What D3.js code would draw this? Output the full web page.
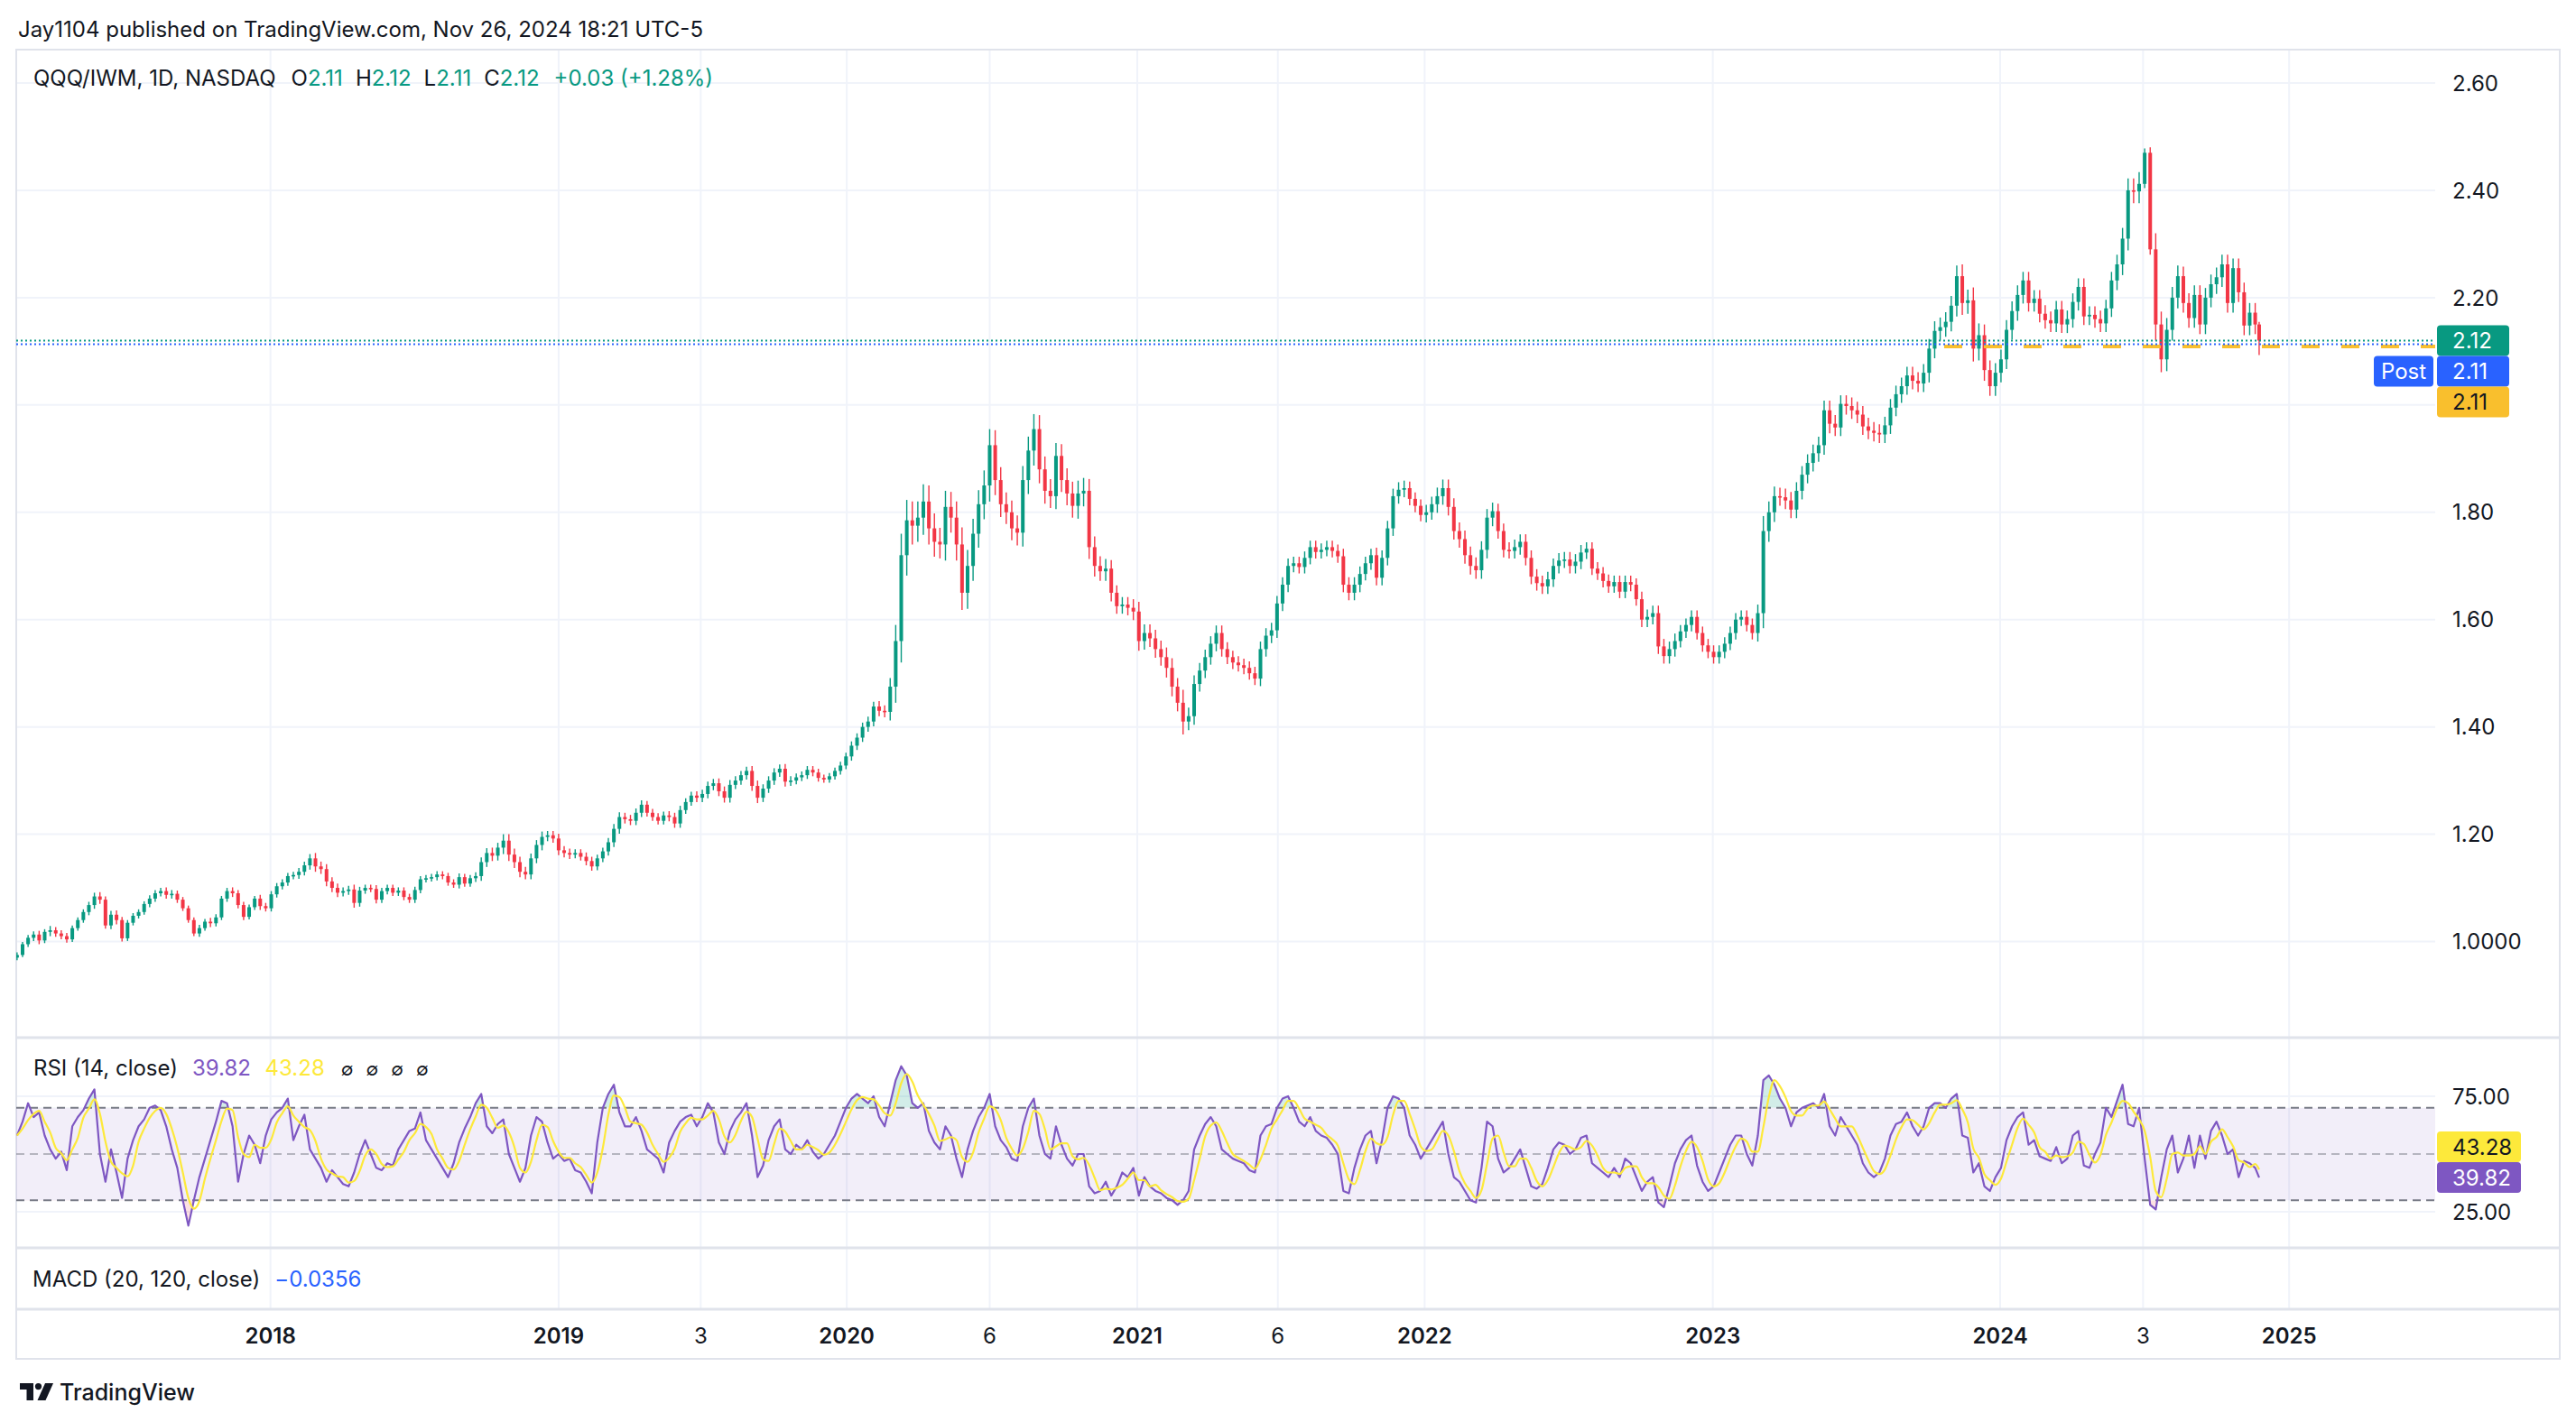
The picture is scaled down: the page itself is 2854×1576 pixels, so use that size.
<!DOCTYPE html>
<html lang="en">
<head>
    <meta charset="UTF-8">
    <title>QQQ/IWM, 1D</title>
    <script src="https://d3js.org/d3.v7.min.js"></script>
    <style>
        body { margin: 0; background: #ffffff; overflow: hidden; }
        svg { display: block; }
    </style>
</head>
<body>
<script>
    // weekly closes of QQQ/IWM (week ending Friday)
    const closes2017 = [0.975, 0.995, 1.007, 1.013, 1.002, 1.018, 1.021, 1.015, 1.010, 1.004,
        1.025, 1.040, 1.055, 1.068, 1.084, 1.078, 1.030, 1.050, 1.040, 1.006,
        1.035, 1.048, 1.055, 1.070, 1.080, 1.090, 1.094, 1.087, 1.089, 1.078,
        1.062, 1.040, 1.015, 1.025, 1.037, 1.034, 1.045, 1.080, 1.094, 1.090,
        1.068, 1.046, 1.064, 1.080, 1.066, 1.062];
    const closes2018 = [1.088, 1.103, 1.110, 1.122, 1.124, 1.130, 1.142, 1.155, 1.140, 1.135,
        1.112, 1.100, 1.091, 1.094, 1.097, 1.072, 1.095, 1.100, 1.098, 1.078,
        1.094, 1.100, 1.091, 1.095, 1.083, 1.078, 1.096, 1.116, 1.118, 1.120,
        1.125, 1.122, 1.110, 1.106, 1.120, 1.108, 1.118, 1.122, 1.148, 1.165,
        1.160, 1.175, 1.188, 1.162, 1.148, 1.130, 1.125, 1.155, 1.180, 1.195,
        1.198, 1.192];
    const closes2019 = [1.170, 1.165, 1.162, 1.165, 1.158, 1.150, 1.140, 1.155, 1.168, 1.185,
        1.210, 1.232, 1.228, 1.225, 1.240, 1.255, 1.240, 1.232, 1.225, 1.235,
        1.232, 1.220, 1.245, 1.260, 1.272, 1.268, 1.275, 1.290, 1.295, 1.280,
        1.268, 1.292, 1.300, 1.310, 1.318, 1.290, 1.268, 1.285, 1.300, 1.315,
        1.322, 1.298, 1.300, 1.306, 1.310, 1.320, 1.315, 1.305, 1.302, 1.308,
        1.318, 1.328];
    const closes2020 = [1.345, 1.365, 1.380, 1.400, 1.410, 1.438, 1.430, 1.428, 1.475, 1.560,
        1.720, 1.785, 1.775, 1.790, 1.820, 1.770, 1.745, 1.740, 1.810, 1.790,
        1.740, 1.650, 1.700, 1.760, 1.815, 1.850, 1.925, 1.860, 1.815, 1.800,
        1.770, 1.762, 1.860, 1.915, 1.955, 1.880, 1.840, 1.830, 1.905, 1.860,
        1.835, 1.812, 1.835, 1.840, 1.735, 1.700, 1.690, 1.695, 1.650, 1.625,
        1.628, 1.622];
    const closes2021 = [1.615, 1.560, 1.575, 1.565, 1.545, 1.530, 1.510, 1.475, 1.445, 1.410,
        1.420, 1.480, 1.505, 1.530, 1.555, 1.575, 1.545, 1.530, 1.520, 1.515,
        1.510, 1.500, 1.490, 1.545, 1.570, 1.580, 1.630, 1.665, 1.700, 1.705,
        1.698, 1.715, 1.735, 1.726, 1.730, 1.735, 1.728, 1.718, 1.665, 1.650,
        1.665, 1.685, 1.705, 1.720, 1.678, 1.715, 1.770, 1.830, 1.842, 1.845,
        1.825, 1.812, 1.795];
    const closes2022 = [1.800, 1.815, 1.830, 1.845, 1.810, 1.765, 1.750, 1.720, 1.700, 1.692,
        1.730, 1.790, 1.802, 1.765, 1.730, 1.728, 1.735, 1.745, 1.715, 1.680,
        1.668, 1.662, 1.675, 1.700, 1.710, 1.712, 1.700, 1.708, 1.725, 1.732,
        1.695, 1.686, 1.672, 1.662, 1.670, 1.652, 1.670, 1.665, 1.638, 1.600,
        1.605, 1.612, 1.550, 1.532, 1.545, 1.560, 1.578, 1.590, 1.605, 1.575,
        1.552, 1.540];
    const closes2023 = [1.530, 1.540, 1.555, 1.575, 1.600, 1.605, 1.590, 1.575, 1.612, 1.765,
        1.800, 1.830, 1.828, 1.822, 1.805, 1.840, 1.870, 1.892, 1.910, 1.925,
        1.990, 1.965, 1.958, 2.002, 1.998, 1.990, 1.982, 1.960, 1.952, 1.948,
        1.945, 1.962, 1.995, 2.020, 2.035, 2.055, 2.045, 2.040, 2.060, 2.105,
        2.138, 2.145, 2.155, 2.185, 2.240, 2.190, 2.195, 2.105, 2.130, 2.065,
        2.035, 2.060];
    const closes2024 = [2.085, 2.140, 2.175, 2.205, 2.232, 2.190, 2.198, 2.170, 2.158, 2.152,
        2.178, 2.150, 2.160, 2.192, 2.220, 2.165, 2.168, 2.160, 2.152, 2.180,
        2.232, 2.262, 2.310, 2.400, 2.398, 2.412, 2.470, 2.290, 2.150, 2.085,
        2.140, 2.200, 2.240, 2.190, 2.162, 2.205, 2.150, 2.200, 2.225, 2.238,
        2.262, 2.190, 2.255, 2.210, 2.148, 2.172, 2.150];
    const firstOpen = 0.970;
    const lastBar = { date: "2024-11-26", open: 2.150, high: 2.155, low: 2.093, close: 2.12 };

    // how far the week's high / low reach past its body, in thousandths
    const wick2017 = [5, 4, 5, 6, 7, 5, 8, 6, 6, 6, 5, 5, 5, 6, 7, 8, 6, 7, 8, 6,
        5, 5, 5, 5, 6, 6, 6, 7, 7, 6, 5, 5, 5, 6, 5, 7, 6, 5, 6, 7, 6, 6, 5, 5, 7, 6];
    const wick2018 = [6, 6, 6, 6, 6, 7, 7, 8, 10, 9, 9, 8, 8, 7, 7, 9, 7, 6, 6, 7,
        6, 6, 6, 6, 6, 6, 6, 6, 6, 6, 6, 6, 6, 6, 7, 6, 6, 7, 9, 9,
        10, 9, 12, 12, 11, 10, 9, 9, 9, 10, 8, 8];
    const wick2019 = [9, 8, 8, 7, 7, 8, 8, 7, 7, 8, 9, 9, 8, 8, 8, 8, 7, 7, 7, 7,
        8, 8, 8, 7, 7, 8, 8, 8, 8, 9, 9, 9, 8, 8, 8, 9, 10, 8, 8, 8,
        8, 9, 8, 7, 7, 7, 7, 7, 6, 6, 6, 7];
    const wick2020 = [7, 8, 8, 8, 9, 9, 10, 10, 16, 30, 40, 38, 35, 30, 32, 30, 28, 26, 30, 28,
        30, 32, 30, 28, 26, 28, 30, 28, 24, 22, 22, 24, 26, 26, 28, 26, 24, 22, 24, 22,
        22, 22, 24, 24, 22, 20, 18, 18, 16, 14, 14, 14];
    const wick2021 = [16, 18, 16, 16, 16, 16, 18, 18, 16, 24, 16, 16, 14, 14, 14, 14, 14, 13, 12, 12,
        12, 12, 12, 14, 14, 14, 14, 14, 14, 12, 12, 12, 12, 12, 12, 12, 12, 12, 14, 14,
        14, 14, 12, 12, 14, 14, 14, 14, 14, 14, 12, 12, 12];
    const wick2022 = [14, 14, 16, 16, 16, 16, 16, 16, 16, 16, 16, 16, 16, 14, 14, 14, 14, 14, 14, 14,
        14, 14, 14, 14, 14, 14, 14, 14, 14, 12, 12, 12, 12, 12, 12, 12, 12, 12, 12, 14,
        14, 14, 14, 14, 14, 14, 12, 12, 12, 12, 12, 12];
    const wick2023 = [12, 12, 12, 12, 12, 12, 12, 12, 16, 28, 20, 18, 16, 16, 16, 16, 16, 16, 16, 16,
        18, 18, 16, 16, 16, 16, 16, 16, 16, 16, 16, 16, 16, 16, 16, 16, 16, 16, 16, 18,
        18, 18, 18, 18, 20, 22, 20, 24, 22, 20, 18, 18];
    const wick2024 = [18, 18, 18, 18, 16, 16, 16, 16, 16, 16, 16, 16, 16, 16, 16, 16, 16, 16, 16, 16,
        16, 18, 20, 22, 22, 22, 8, 10, 30, 24, 22, 20, 20, 18, 18, 18, 18, 18, 18, 18,
        18, 18, 18, 18, 18, 18, 18];

    // RSI (14, close) sampled once a week, same dates as the closes
    const rsi2017 = [58, 64, 72, 66, 68, 58, 52, 48, 51, 43, 62, 66, 69, 74, 78, 50, 38, 52, 42, 31,
        48, 56, 62, 65, 70, 71, 69, 62, 52, 44, 30, 19, 30, 40, 48, 56, 64, 73, 72, 62,
        38, 50, 58, 54, 46, 58];
    const rsi2018 = [65, 68, 70, 74, 56, 62, 67, 52, 48, 44, 38, 43, 40, 37, 36, 42, 50, 56, 50, 44,
        43, 46, 45, 52, 56, 60, 61, 68, 56, 52, 48, 44, 40, 46, 55, 61, 66, 72, 76, 62,
        59, 63, 65, 50, 44, 38, 44, 58, 66, 64, 55, 48];
    const rsi2019 = [50, 47, 48, 43, 42, 38, 33, 55, 70, 76, 80, 68, 62, 62, 66, 60, 52, 50, 48, 42,
        55, 60, 64, 66, 67, 62, 66, 72, 68, 55, 50, 60, 65, 68, 72, 58, 40, 45, 56, 62,
        65, 52, 50, 54, 52, 56, 51, 48, 50, 54, 58, 64];
    const rsi2020 = [70, 74, 76, 74, 72, 75, 66, 62, 72, 82, 88, 84, 72, 70, 72, 60, 55, 52, 62, 58,
        48, 40, 52, 60, 66, 70, 76, 62, 56, 53, 48, 47, 62, 70, 74, 58, 50, 48, 62, 54,
        48, 45, 50, 50, 36, 33, 34, 38, 32, 36, 42, 40];
    const rsi2021 = [44, 32, 40, 36, 34, 33, 31, 30, 28, 30, 34, 52, 58, 63, 66, 62, 52, 50, 48, 47,
        46, 43, 42, 58, 62, 63, 70, 74, 75, 70, 64, 62, 66, 60, 58, 57, 54, 50, 34, 33,
        44, 52, 58, 60, 46, 56, 70, 75, 74, 70, 58, 54, 48];
    const rsi2022 = [52, 56, 60, 64, 50, 40, 38, 34, 30, 29, 44, 64, 62, 48, 42, 44, 48, 52, 44, 36,
        35, 37, 44, 52, 55, 54, 50, 52, 57, 58, 46, 44, 42, 40, 44, 40, 48, 46, 40, 34,
        38, 40, 29, 27, 36, 46, 52, 56, 58, 45, 38, 34];
    const rsi2023 = [36, 42, 48, 54, 58, 58, 50, 45, 58, 82, 84, 80, 74, 70, 62, 68, 70, 71, 72, 70,
        76, 62, 58, 66, 62, 58, 54, 46, 42, 40, 42, 48, 58, 63, 64, 68, 62, 58, 62, 70,
        72, 72, 70, 74, 76, 58, 57, 42, 46, 36, 34, 40];
    const rsi2024 = [44, 56, 62, 66, 68, 54, 56, 49, 48, 47, 53, 46, 48, 58, 60, 45, 44, 50, 55, 70,
        66, 73, 80, 63, 62, 70, 48, 28, 26, 40, 52, 58, 42, 48, 58, 44, 58, 48, 60, 64,
        58, 50, 52, 40, 47, 46, 44];
    const rsiLast = 39.82;

    const priceTicks = [1.0, 1.2, 1.4, 1.6, 1.8, 2.0, 2.2, 2.4, 2.6];
    // 2.00 sits under the price badges, so it has no visible label
    const priceLabelTicks = [1.0, 1.2, 1.4, 1.6, 1.8, 2.2, 2.4, 2.6];
    const priceTickLabels = ["1.0000", "1.20", "1.40", "1.60", "1.80", "2.20", "2.40", "2.60"];
    const rsiTicks = [75, 25];
    const rsiTickLabels = ["75.00", "25.00"];
    const timeTicks = ["2018-01-02", "2019-01-02", "2019-07-01", "2020-01-02", "2020-07-01", "2021-01-04",
        "2021-07-01", "2022-01-03", "2023-01-03", "2024-01-02", "2024-07-01", "2025-01-02"];
    const timeTickLabels = ["2018", "2019", "3", "2020", "6", "2021", "6", "2022", "2023", "2024", "3", "2025"];

    const lastPrice = 2.12, postPrice = 2.113, markPrice = 2.109, markStart = "2023-10-23";
    const legendOHLC = [["O", "2.11"], ["H", "2.12"], ["L", "2.11"], ["C", "2.12"]];
    const legendChange = "+0.03 (+1.28%)";
    const rsiMaLast = "43.28";
    const macdValue = "\u22120.0356";

    const W = 2854, H = 1576;
    const FONT = "Inter, Roboto, 'Noto Sans', sans-serif";
    const TEXT = "#131722", GRID = "#f0f3fa", BORDER = "#e0e3eb";
    const UP = "#089981", DOWN = "#f23645", BLUE = "#2962ff", PURPLE = "#7e57c2", MA = "#fde93b", MARK = "#f9bf2d";

    const L = 18, R = 2698, AX = 2836;
    const priceTop = 55, priceBot = 1150, rsiBot = 1383, macdBot = 1451, timeBot = 1506;

    const parse = d3.timeParse("%Y-%m-%d");

    const x = d3.scaleTime().domain([parse("2017-02-14"), parse("2025-07-06")]).range([L, R]);
    const y = d3.scaleLinear().domain([1.0, 2.6]).range([1043.5, 92]);
    const yr = d3.scaleLinear().domain([25, 75]).range([1343, 1215]);

    const weeks = d3.timeFriday.range(parse("2017-02-17"), parse("2024-11-23"));
    const closes = [].concat(closes2017, closes2018, closes2019, closes2020, closes2021, closes2022, closes2023, closes2024);
    const wicks = [].concat(wick2017, wick2018, wick2019, wick2020, wick2021, wick2022, wick2023, wick2024);
    const rsiVals = [].concat(rsi2017, rsi2018, rsi2019, rsi2020, rsi2021, rsi2022, rsi2023, rsi2024);
    if (closes.length !== weeks.length || rsiVals.length !== weeks.length || wicks.length !== weeks.length) {
        console.warn("length mismatch", weeks.length, closes.length, wicks.length, rsiVals.length);
    }

    const bars = weeks.map((d, i) => {
        const open = i ? closes[i - 1] : firstOpen, close = closes[i];
        return {
            date: d3.timeDay.offset(d, -2),
            open, close,
            high: Math.max(open, close) + wicks[i] / 1000,
            low: Math.min(open, close) - wicks[i] / 1000
        };
    });
    bars.push({ ...lastBar, date: d3.timeDay.offset(parse(lastBar.date), -1) });

    const rsi = weeks.map((d, i) => ({ date: d3.timeDay.offset(d, -2), v: rsiVals[i] }));
    rsi.push({ date: d3.timeDay.offset(parse(lastBar.date), -1), v: rsiLast });
    rsi.forEach((d, i) => {
        d.ma = d3.mean(rsi.slice(Math.max(0, i - 2), i + 1), e => e.v);
    });

    const svg = d3.select("body").append("svg")
        .attr("width", W)
        .attr("height", H)
        .style("font-family", FONT);

    svg.append("rect").attr("width", W).attr("height", H).attr("fill", "#ffffff");

    const defs = svg.append("defs");
    defs.append("clipPath").attr("id", "clipPrice")
        .append("rect").attr("x", L).attr("y", priceTop).attr("width", R - L).attr("height", priceBot - priceTop);
    defs.append("clipPath").attr("id", "clipOB")
        .append("rect").attr("x", L).attr("y", priceBot).attr("width", R - L).attr("height", yr(70) - priceBot);
    defs.append("clipPath").attr("id", "clipOS")
        .append("rect").attr("x", L).attr("y", yr(30)).attr("width", R - L).attr("height", rsiBot - yr(30));

    // grid
    const grid = svg.append("g");
    grid.selectAll(".vg").data(timeTicks).join("line")
        .attr("x1", d => x(parse(d))).attr("x2", d => x(parse(d)))
        .attr("y1", priceTop).attr("y2", macdBot)
        .attr("stroke", GRID).attr("stroke-width", 2);
    grid.selectAll(".hg").data(priceTicks).join("line")
        .attr("x1", L).attr("x2", R)
        .attr("y1", d => y(d)).attr("y2", d => y(d))
        .attr("stroke", GRID).attr("stroke-width", 2);
    grid.selectAll(".rg").data(rsiTicks).join("line")
        .attr("x1", L).attr("x2", R)
        .attr("y1", d => yr(d)).attr("y2", d => yr(d))
        .attr("stroke", GRID).attr("stroke-width", 2);

    // frame
    const frame = svg.append("g").attr("stroke", BORDER).attr("fill", "none");
    frame.append("rect").attr("x", L).attr("y", priceTop).attr("width", AX - L).attr("height", timeBot - priceTop).attr("stroke-width", 2);
    [priceBot, rsiBot, macdBot].forEach(v => {
        frame.append("line").attr("x1", L).attr("x2", AX).attr("y1", v).attr("y2", v).attr("stroke-width", 3);
    });

    // candles
    const bw = 4;
    const candles = svg.append("g").attr("clip-path", "url(#clipPrice)")
        .selectAll("g").data(bars).join("g")
        .attr("fill", d => d.close >= d.open ? UP : DOWN)
        .attr("stroke", d => d.close >= d.open ? UP : DOWN);
    candles.append("line")
        .attr("x1", d => x(d.date)).attr("x2", d => x(d.date))
        .attr("y1", d => y(d.high)).attr("y2", d => y(d.low))
        .attr("stroke-width", 1.4);
    candles.append("rect")
        .attr("stroke", "none")
        .attr("x", d => x(d.date) - bw / 2)
        .attr("width", bw)
        .attr("y", d => y(Math.max(d.open, d.close)))
        .attr("height", d => Math.max(1.6, Math.abs(y(d.open) - y(d.close))));

    // price lines
    const pl = svg.append("g").attr("fill", "none");
    pl.append("line").attr("x1", x(parse(markStart))).attr("x2", R)
        .attr("y1", y(markPrice)).attr("y2", y(markPrice))
        .attr("stroke", MARK).attr("stroke-width", 4).attr("stroke-dasharray", "20,24");
    pl.append("line").attr("x1", L).attr("x2", R)
        .attr("y1", y(postPrice)).attr("y2", y(postPrice))
        .attr("stroke", BLUE).attr("stroke-width", 2).attr("stroke-dasharray", "2,3");
    pl.append("line").attr("x1", L).attr("x2", R)
        .attr("y1", y(lastPrice)).attr("y2", y(lastPrice))
        .attr("stroke", UP).attr("stroke-width", 2).attr("stroke-dasharray", "2,3");

    // RSI pane
    const rp = svg.append("g");
    rp.append("rect").attr("x", L).attr("width", R - L)
        .attr("y", yr(70)).attr("height", yr(30) - yr(70))
        .attr("fill", PURPLE).attr("fill-opacity", 0.1);
    rp.append("path").datum(rsi)
        .attr("clip-path", "url(#clipOB)")
        .attr("d", d3.area().x(d => x(d.date)).y0(yr(70)).y1(d => yr(d.v)))
        .attr("fill", UP).attr("fill-opacity", 0.18);
    rp.append("path").datum(rsi)
        .attr("clip-path", "url(#clipOS)")
        .attr("d", d3.area().x(d => x(d.date)).y0(yr(30)).y1(d => yr(d.v)))
        .attr("fill", DOWN).attr("fill-opacity", 0.15);
    [70, 30].forEach(v => {
        rp.append("line").attr("x1", L).attr("x2", R).attr("y1", yr(v)).attr("y2", yr(v))
            .attr("stroke", "#787b86").attr("stroke-width", 2).attr("stroke-dasharray", "9,6");
    });
    rp.append("line").attr("x1", L).attr("x2", R).attr("y1", yr(50)).attr("y2", yr(50))
        .attr("stroke", "#787b86").attr("stroke-opacity", 0.5).attr("stroke-width", 2).attr("stroke-dasharray", "9,6");
    rp.append("path").datum(rsi)
        .attr("d", d3.line().x(d => x(d.date)).y(d => yr(d.v)))
        .attr("fill", "none").attr("stroke", PURPLE).attr("stroke-width", 2.2).attr("stroke-linejoin", "round");
    rp.append("path").datum(rsi)
        .attr("d", d3.line().x(d => x(d.date)).y(d => yr(d.ma)).curve(d3.curveMonotoneX))
        .attr("fill", "none").attr("stroke", MA).attr("stroke-width", 2.2);

    // axes labels
    const axis = svg.append("g").attr("font-size", 24).attr("fill", TEXT);
    axis.selectAll(".pl").data(priceLabelTicks).join("text")
        .attr("x", 2717).attr("y", d => y(d)).attr("dy", "0.36em")
        .text((d, i) => priceTickLabels[i]);
    axis.selectAll(".rl").data(rsiTicks).join("text")
        .attr("x", 2717).attr("y", d => yr(d)).attr("dy", "0.36em")
        .text((d, i) => rsiTickLabels[i]);
    axis.selectAll(".tl").data(timeTicks).join("text")
        .attr("x", d => x(parse(d))).attr("y", 1480).attr("dy", "0.36em")
        .attr("text-anchor", "middle")
        .attr("font-weight", (d, i) => timeTickLabels[i].length === 4 ? 600 : 400)
        .text((d, i) => timeTickLabels[i]);

    function badge(x0, yc, w, fill, label, color, r) {
        const g = svg.append("g");
        g.append("rect").attr("x", x0).attr("y", yc - 17).attr("width", w).attr("height", 34)
            .attr("rx", r).attr("fill", fill);
        g.append("text").attr("x", x0 + 17).attr("y", yc).attr("dy", "0.36em")
            .attr("font-size", 24).attr("fill", color).text(label);
        return g;
    }
    const yLast = y(lastPrice);
    badge(2700, yLast, 80, UP, "2.12", "#ffffff", 4);
    badge(2700, yLast + 34, 80, BLUE, "2.11", "#ffffff", 4);
    badge(2700, yLast + 68, 80, MARK, "2.11", TEXT, 4);
    const post = badge(2630, yLast + 34, 66, BLUE, "", "#ffffff", 4);
    post.append("text").attr("x", 2663).attr("y", yLast + 34).attr("dy", "0.36em")
        .attr("text-anchor", "middle").attr("font-size", 24).attr("fill", "#ffffff").text("Post");

    const yRsi = yr(rsiLast);
    badge(2700, yRsi - 34, 93, MA, rsiMaLast, TEXT, 4);
    badge(2700, yRsi, 93, PURPLE, rsiLast.toFixed(2), "#ffffff", 4);

    // header and legends
    svg.append("text").attr("x", 20).attr("y", 32).attr("dy", "0.36em")
        .attr("font-size", 24).attr("fill", TEXT)
        .text("Jay1104 published on TradingView.com, Nov 26, 2024 18:21 UTC-5");

    const lg = svg.append("text").attr("x", 37).attr("y", 86).attr("dy", "0.36em")
        .attr("font-size", 24).attr("fill", TEXT);
    lg.append("tspan").text("QQQ/IWM, 1D, NASDAQ");
    legendOHLC.forEach(([k, v], i) => {
        lg.append("tspan").attr("dx", i ? 14 : 17).text(k);
        lg.append("tspan").attr("fill", UP).text(v);
    });
    lg.append("tspan").attr("dx", 16).attr("fill", UP).text(legendChange);

    const rl = svg.append("text").attr("x", 37).attr("y", 1183).attr("dy", "0.36em")
        .attr("font-size", 24).attr("fill", TEXT);
    rl.append("tspan").text("RSI (14, close)");
    rl.append("tspan").attr("dx", 16).attr("fill", PURPLE).text(rsiLast.toFixed(2));
    rl.append("tspan").attr("dx", 16).attr("fill", MA).text(rsiMaLast);
    ["\u2205", "\u2205", "\u2205", "\u2205"].forEach((s, i) => {
        rl.append("tspan").attr("dx", i ? 14 : 18).attr("font-size", 20).text(s);
    });

    const ml = svg.append("text").attr("x", 36).attr("y", 1417).attr("dy", "0.36em")
        .attr("font-size", 24).attr("fill", TEXT);
    ml.append("tspan").text("MACD (20, 120, close)");
    ml.append("tspan").attr("dx", 16).attr("fill", BLUE).text(macdValue);

    // TradingView mark
    const logo = svg.append("g").attr("transform", "translate(22,1533)").attr("fill", TEXT);
    logo.append("path").attr("d", "M0,0H15V19H7.5V7H0Z");
    logo.append("circle").attr("cx", 20.5).attr("cy", 3.6).attr("r", 3.6);
    logo.append("path").attr("d", "M28,0H37L28.5,19H19.5Z");
    svg.append("text").attr("x", 66).attr("y", 1543).attr("dy", "0.36em")
        .attr("font-size", 25).attr("font-weight", 500).attr("fill", TEXT).text("TradingView");
</script>
</body>
</html>
